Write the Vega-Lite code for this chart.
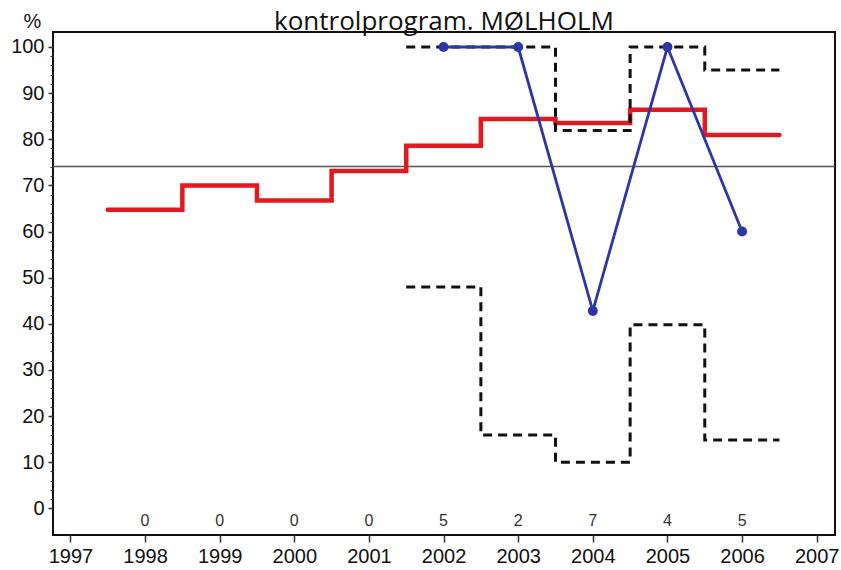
{
  "$schema": "https://vega.github.io/schema/vega-lite/v6.json",
  "width": 782,
  "height": 503,
  "autosize": {"type": "none"},
  "padding": {"left": 53, "top": 32, "right": 6, "bottom": 35},
  "background": "white",
  "title": {
    "text": "kontrolprogram. MØLHOLM",
    "anchor": "middle",
    "font": "Open Sans",
    "fontSize": 26,
    "fontWeight": "normal",
    "color": "#111",
    "offset": -24
  },
  "config": {
    "view": {"stroke": "#111", "strokeWidth": 2},
    "axis": {
      "labelFont": "Liberation Sans Narrow, Liberation Sans, Arial",
      "labelFontSize": 20,
      "labelColor": "#111",
      "tickColor": "#333",
      "grid": false,
      "domain": false
    }
  },
  "datasets": {
    "steps": [
      {"s": "rate", "x": 1997.5, "v": 64.7},
      {"s": "rate", "x": 1998.5, "v": 70.0},
      {"s": "rate", "x": 1999.5, "v": 66.7},
      {"s": "rate", "x": 2000.5, "v": 73.1},
      {"s": "rate", "x": 2001.5, "v": 78.6},
      {"s": "rate", "x": 2002.5, "v": 84.4},
      {"s": "rate", "x": 2003.5, "v": 83.5},
      {"s": "rate", "x": 2004.5, "v": 86.4},
      {"s": "rate", "x": 2005.5, "v": 80.9},
      {"s": "rate", "x": 2006.5, "v": 80.9},
      {"s": "hi", "x": 2001.5, "v": 100},
      {"s": "hi", "x": 2002.5, "v": 100},
      {"s": "hi", "x": 2003.5, "v": 81.9},
      {"s": "hi", "x": 2004.5, "v": 100},
      {"s": "hi", "x": 2005.5, "v": 95},
      {"s": "hi", "x": 2006.5, "v": 95},
      {"s": "lo", "x": 2001.5, "v": 48},
      {"s": "lo", "x": 2002.5, "v": 15.9},
      {"s": "lo", "x": 2003.5, "v": 10},
      {"s": "lo", "x": 2004.5, "v": 39.8},
      {"s": "lo", "x": 2005.5, "v": 14.8},
      {"s": "lo", "x": 2006.5, "v": 14.8}
    ],
    "obs": [
      {"year": 2002, "v": 100},
      {"year": 2003, "v": 100},
      {"year": 2004, "v": 42.8},
      {"year": 2005, "v": 100},
      {"year": 2006, "v": 60}
    ],
    "counts": [
      {"year": 1998, "n": "0", "v": -2.7},
      {"year": 1999, "n": "0", "v": -2.7},
      {"year": 2000, "n": "0", "v": -2.7},
      {"year": 2001, "n": "0", "v": -2.7},
      {"year": 2002, "n": "5", "v": -2.7},
      {"year": 2003, "n": "2", "v": -2.7},
      {"year": 2004, "n": "7", "v": -2.7},
      {"year": 2005, "n": "4", "v": -2.7},
      {"year": 2006, "n": "5", "v": -2.7}
    ],
    "ref": [{"v": 74.1}]
  },
  "resolve": {"axis": {"y": "independent", "x": "independent"}},
  "layer": [
    {
      "data": {"name": "ref"},
      "mark": {"type": "rule", "color": "#555", "strokeWidth": 1.5},
      "encoding": {
        "y": {"field": "v", "type": "quantitative", "scale": {"domain": [-5.78, 103.25], "nice": false, "zero": false}, "axis": null}
      }
    },
    {
      "data": {"name": "steps"},
      "transform": [{"filter": "datum.s == 'rate'"}],
      "mark": {"type": "line", "interpolate": "step-after", "color": "#e3191f", "strokeWidth": 4.5, "strokeCap": "round"},
      "encoding": {
        "x": {"field": "x", "type": "quantitative", "scale": {"domain": [1996.767, 2007.245], "nice": false, "zero": false},
          "axis": {"orient": "bottom", "values": [1997, 1998, 1999, 2000, 2001, 2002, 2003, 2004, 2005, 2006, 2007], "format": "d", "title": null, "tickSize": 7, "tickWidth": 1.5, "labelPadding": 4, "labelFlush": false}},
        "y": {"field": "v", "type": "quantitative",
          "axis": {"orient": "left", "values": [0, 10, 20, 30, 40, 50, 60, 70, 80, 90, 100], "tickSize": 5, "tickWidth": 1.5, "labelPadding": 4,
            "title": "%", "titleAngle": 0, "titleX": -21, "titleY": -11, "titleAlign": "center", "titleBaseline": "middle",
            "titleFont": "Liberation Sans Narrow, Liberation Sans, Arial", "titleFontSize": 20, "titleFontWeight": "normal", "titleColor": "#111"}}
      }
    },
    {
      "data": {"name": "steps"},
      "transform": [{"filter": "datum.s != 'rate'"}],
      "mark": {"type": "line", "interpolate": "step-after", "color": "#111", "strokeWidth": 3, "strokeDash": [9, 6]},
      "encoding": {
        "x": {"field": "x", "type": "quantitative", "axis": null},
        "y": {"field": "v", "type": "quantitative", "axis": null},
        "detail": {"field": "s"}
      }
    },
    {
      "data": {"name": "obs"},
      "mark": {"type": "line", "color": "#2a37a8", "strokeWidth": 2.8, "point": {"filled": true, "size": 100, "color": "#2a37a8"}},
      "encoding": {
        "x": {"field": "year", "type": "quantitative", "axis": null},
        "y": {"field": "v", "type": "quantitative", "axis": null}
      }
    },
    {
      "data": {"name": "counts"},
      "mark": {"type": "text", "font": "Liberation Sans Narrow, Liberation Sans, Arial", "fontSize": 16, "color": "#333", "baseline": "middle"},
      "encoding": {
        "x": {"field": "year", "type": "quantitative", "axis": null},
        "y": {"field": "v", "type": "quantitative",
          "axis": {"orient": "left", "values": [0, 2, 4, 6, 8, 10, 12, 14, 16, 18, 20, 22, 24, 26, 28, 30, 32, 34, 36, 38, 40, 42, 44, 46, 48, 50, 52, 54, 56, 58, 60, 62, 64, 66, 68, 70, 72, 74, 76, 78, 80, 82, 84, 86, 88, 90, 92, 94, 96, 98, 100], "labels": false, "tickSize": 3, "tickWidth": 1.2, "title": null}},
        "text": {"field": "n"}
      }
    }
  ]
}
